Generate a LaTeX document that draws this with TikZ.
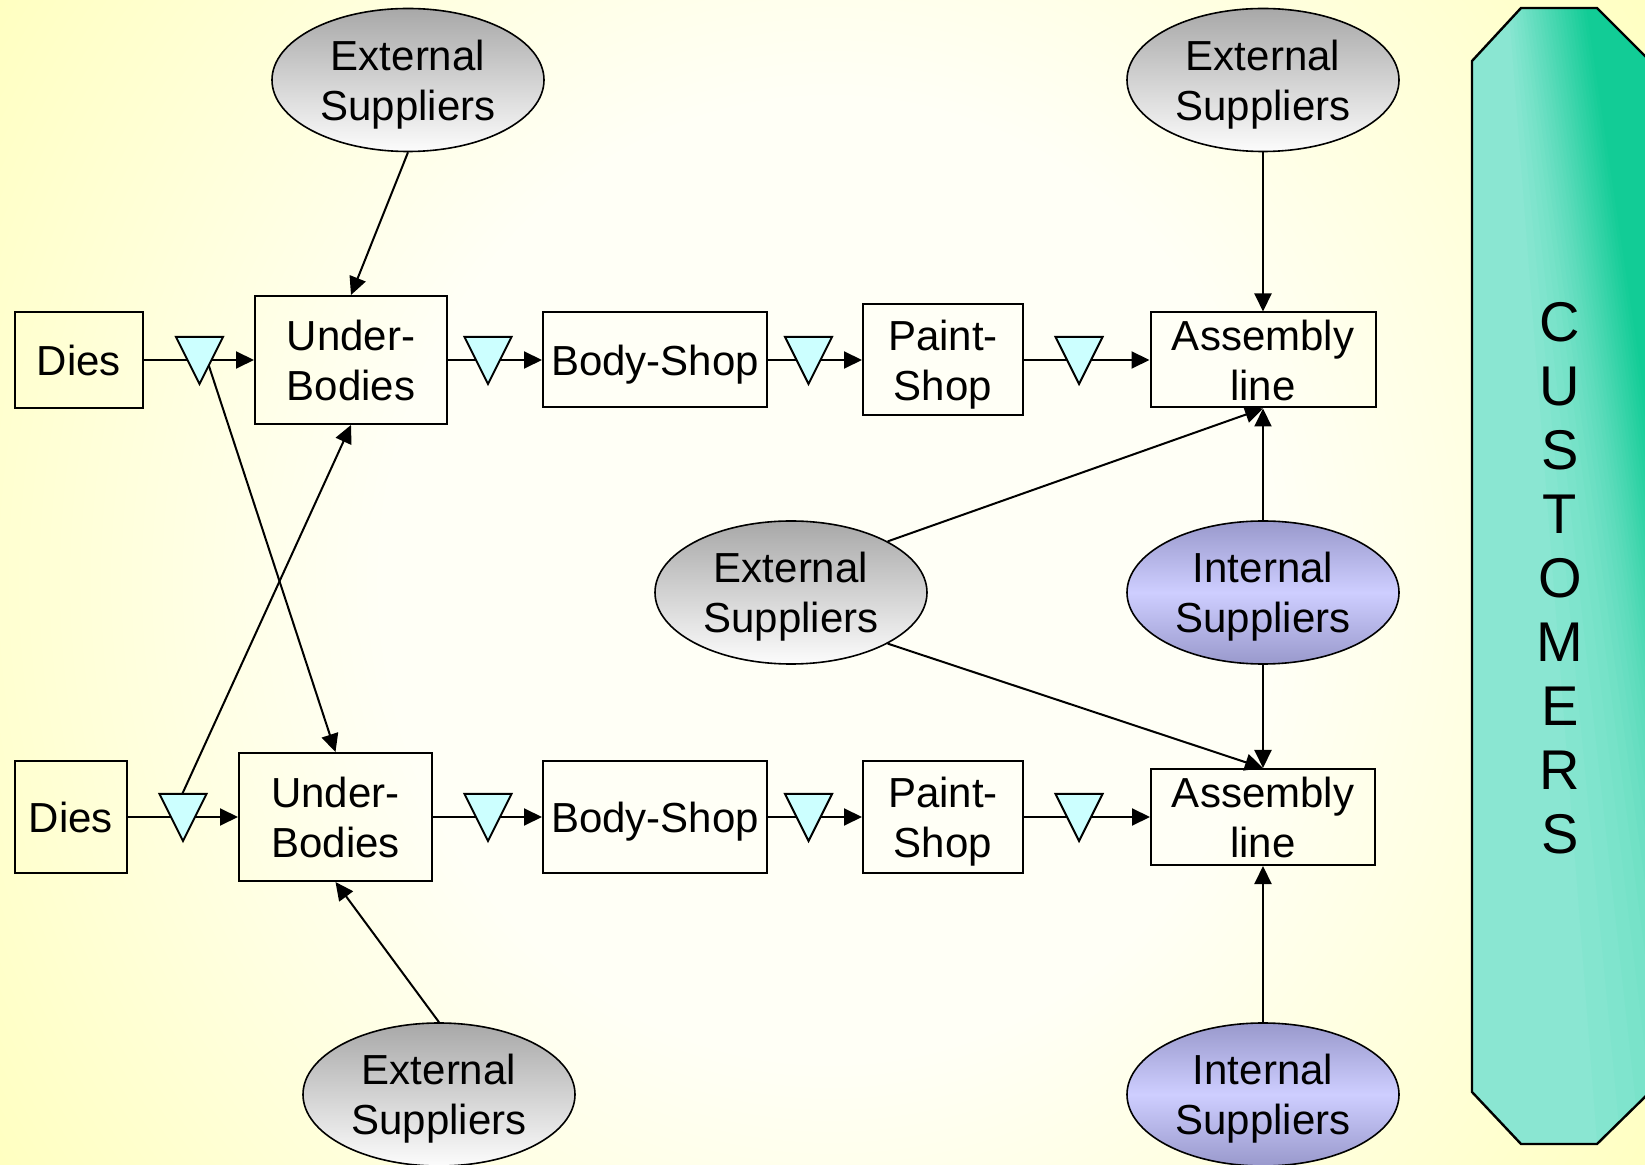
\documentclass[tikz,border=0pt]{standalone}
\usepackage{fontspec}
\setmainfont{Liberation Sans}
\usetikzlibrary{arrows.meta,shapes.geometric,calc}
\definecolor{bgyellow}{RGB}{255,255,153}
\definecolor{bgcenter}{RGB}{255,255,246}
\definecolor{bufcyan}{RGB}{204,255,255}
\definecolor{extgraytop}{RGB}{168,168,168}
\definecolor{extgraybot}{RGB}{252,252,252}
\definecolor{intedge}{RGB}{153,153,204}
\definecolor{intmid}{RGB}{206,206,255}
\definecolor{custdark}{RGB}{18,204,150}
\definecolor{custlight}{RGB}{138,230,210}
\pgfdeclareradialshading{bgshade}{\pgfpoint{0bp}{0bp}}{color(0bp)=(bgcenter); color(8bp)=(bgcenter); color(25bp)=(bgyellow); color(50bp)=(bgyellow)}
\newcommand\diagfont{\fontsize{21}{25}\selectfont}
\newcommand\custfont{\fontsize{28}{32}\selectfont}
\tikzset{
  box/.style={draw, line width=1pt, inner sep=0pt, align=center, font=\diagfont, text depth=0pt},
  extsup/.style={ellipse, draw, line width=0.8pt, inner sep=0pt, minimum width=136pt, minimum height=71.5pt,
    top color=extgraytop, bottom color=extgraybot, align=center, font=\diagfont, text depth=0pt},
  intsup/.style={ellipse, draw, line width=0.8pt, inner sep=0pt, minimum width=136pt, minimum height=71.5pt,
    top color=intedge, bottom color=intedge, middle color=intmid, align=center, font=\diagfont, text depth=0pt},
  flow/.style={draw, line width=1pt, -{Triangle[length=9pt,width=8.5pt]}},
  buffer/.pic={\draw[line width=1pt, fill=bufcyan] (-23.5,-23) -- (23.5,-23) -- (0,24) -- cycle;}
}
\begin{document}
\begin{tikzpicture}[x=0.5pt,y=-0.5pt]
\useasboundingbox (0,0) rectangle (1645,1165);
% background
\begin{scope}
\clip (0,0) rectangle (1645,1165);
\shade[shading=bgshade] (830,580) ellipse (1400 and 1500);
\end{scope}
% customers panel
\begin{scope}
\clip (1472,61) -- (1521,8) -- (1597,8) -- (1650,61) -- (1650,1092) -- (1597,1144) -- (1521,1144) -- (1472,1092) -- cycle;
\fill[custlight] (1460,0) rectangle (1660,1165);
\foreach \k in {25,24,...,0} {
  \pgfmathsetmacro\v{\k/25}
  \pgfmathtruncatemacro\p{100*\v}
  \pgfmathsetmacro\ta{1585-80*\v}
  \pgfmathsetmacro\tb{1760-70*\v-120*\v^6}
  \fill[custlight!\p!custdark] (\ta,0) -- (\tb,1165) -- (1800,1165) -- (1800,0) -- cycle;
}
\end{scope}
\draw[line width=1.2pt] (1650,61) -- (1597,8) -- (1521,8) -- (1472,61) -- (1472,1092) -- (1521,1144) -- (1597,1144) -- (1650,1092);
\node[font=\custfont, align=center, inner sep=0pt] (cust) at (1560,578) {C\\U\\S\\T\\O\\M\\E\\R\\S};
% boxes top row
\node[box, minimum width=64pt, minimum height=48pt] (dies1) at (79,360) {Dies};
\node[box, minimum width=96pt, minimum height=64pt] (ub1) at (351,360) {Under-\\Bodies};
\node[box, minimum width=112pt, minimum height=47.5pt] (bs1) at (655,360) {Body-Shop};
\node[box, minimum width=80pt, minimum height=55.5pt] (ps1) at (943,360) {Paint-\\Shop};
\node[box, minimum width=112.5pt, minimum height=47.5pt] (al1) at (1263,360) {Assembly\\line};
% boxes bottom row
\node[box, minimum width=56pt, minimum height=56pt] (dies2) at (71,817) {Dies};
\node[box, minimum width=96.5pt, minimum height=64pt] (ub2) at (335.5,817) {Under-\\Bodies};
\node[box, minimum width=112pt, minimum height=56pt] (bs2) at (655,817) {Body-Shop};
\node[box, minimum width=80pt, minimum height=56pt] (ps2) at (943,817) {Paint-\\Shop};
\node[box, minimum width=112pt, minimum height=48pt] (al2) at (1263,817) {Assembly\\line};
% suppliers
\node[extsup] (esTL) at (408,80) {External\\Suppliers};
\node[extsup] (esTR) at (1263,80) {External\\Suppliers};
\node[extsup] (esM) at (791,592.5) {External\\Suppliers};
\node[intsup] (isM) at (1263,592.5) {Internal\\Suppliers};
\node[extsup] (esB) at (439,1094.5) {External\\Suppliers};
\node[intsup] (isB) at (1263,1094.5) {Internal\\Suppliers};
% buffer positions
\coordinate (t1) at (199.5,360);
\coordinate (t2) at (488,360);
\coordinate (t3) at (808.5,360);
\coordinate (t4) at (1079,360);
\coordinate (t5) at (183,817);
\coordinate (t6) at (488,817);
\coordinate (t7) at (808.5,817);
\coordinate (t8) at (1079,817);
\coordinate (x1) at (207,360);
\coordinate (x2) at (174,812);
% flow connectors
\draw[flow] (dies1) -- (ub1);
\draw[flow] (ub1) -- (bs1);
\draw[flow] (bs1) -- (ps1);
\draw[flow] (ps1) -- (al1);
\draw[flow] (dies2) -- (ub2);
\draw[flow] (ub2) -- (bs2);
\draw[flow] (bs2) -- (ps2);
\draw[flow] (ps2) -- (al2);
\draw[flow] (x1) -- (ub2.north);
\draw[flow] (x2) -- (ub1.south);
% supplier connectors
\draw[flow] (esTL.south) -- (ub1.north);
\draw[flow] (esTR.south) -- (al1.north);
\draw[flow] (esM.north east) -- (al1.south);
\draw[flow] (isM.north) -- (al1.south);
\draw[flow] (esM.south east) -- (al2.north);
\draw[flow] (isM.south) -- (al2.north);
\draw[flow] (esB.north) -- (ub2.south);
\draw[flow] (isB.north) -- (al2.south);
% buffers
\foreach \t in {t1,t2,t3,t4,t5,t6,t7,t8} { \pic at (\t) {buffer}; }
\end{tikzpicture}
\end{document}
